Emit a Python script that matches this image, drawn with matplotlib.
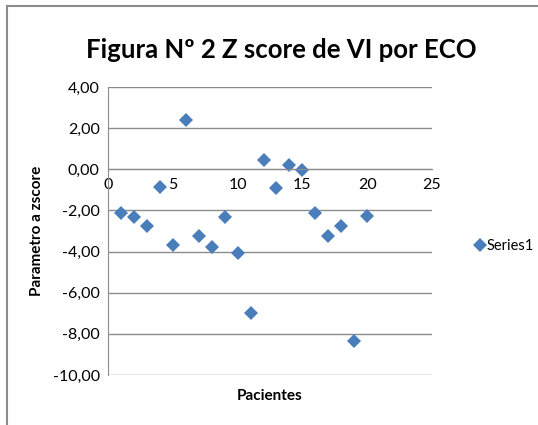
import matplotlib.pyplot as plt
from matplotlib.lines import Line2D
from matplotlib.ticker import FuncFormatter, MultipleLocator

pacientes = [1, 2, 3, 4, 5, 6, 7, 8, 9, 10, 11, 12, 13, 14, 15, 16, 17, 18, 19, 20]
zscore = [-2.11, -2.30, -2.74, -0.85, -3.67, 2.42, -3.23, -3.76, -2.30, -4.05,
          -6.97, 0.46, -0.91, 0.22, -0.02, -2.13, -3.26, -2.78, -8.33, -2.26]

plt.rcParams['font.family'] = ['Lato', 'DejaVu Sans']

fig = plt.figure(figsize=(5.38, 4.25), dpi=100)
ax = fig.add_axes([108 / 538, 1 - 375 / 425, 324 / 538, 288 / 425])

ax.plot(pacientes, zscore, linestyle='none', marker='D', markersize=7,
        color='#4a7ebb', markeredgewidth=0, label='Series1')

ax.set_xlim(0, 25)
ax.set_ylim(-10, 4)
ax.xaxis.set_major_locator(MultipleLocator(5))
ax.yaxis.set_major_locator(MultipleLocator(2))
ax.yaxis.set_major_formatter(FuncFormatter(lambda v, p: f'{v:.2f}'.replace('.', ',')))

ax.grid(axis='y', color='#8c8c8c', linewidth=1)
ax.set_axisbelow(True)
for s in ['top', 'right']:
    ax.spines[s].set_visible(False)
ax.spines['bottom'].set_position(('data', 0))
ax.spines['bottom'].set_color('#8c8c8c')
ax.spines['left'].set_color('#8c8c8c')
ax.tick_params(length=0, labelsize=11.5, pad=6)

ax.set_xlabel('Pacientes', fontsize=11, fontweight='bold')
ax.set_ylabel('Parametro a zscore', fontsize=11, fontweight='bold', labelpad=6)
ax.xaxis.set_label_coords(0.5, -0.05)

fig.text(281 / 538, 1 - 50 / 425, 'Figura Nº 2 Z score de VI por ECO',
         ha='center', va='center', fontsize=18.5, fontweight='bold')

ax.legend(loc='center left', bbox_to_anchor=(468 / 538, 1 - 246 / 425),
          bbox_transform=fig.transFigure, frameon=False, fontsize=10.5,
          handlelength=0.6, handletextpad=0.2, borderpad=0)

fig.add_artist(Line2D([7 / 538, 1], [1 - 6 / 425, 1 - 6 / 425], color='#8c8c8c', linewidth=1.5))
fig.add_artist(Line2D([7 / 538, 7 / 538], [0, 1 - 6 / 425], color='#8c8c8c', linewidth=1.5))

fig.savefig('out.png', dpi=100)
